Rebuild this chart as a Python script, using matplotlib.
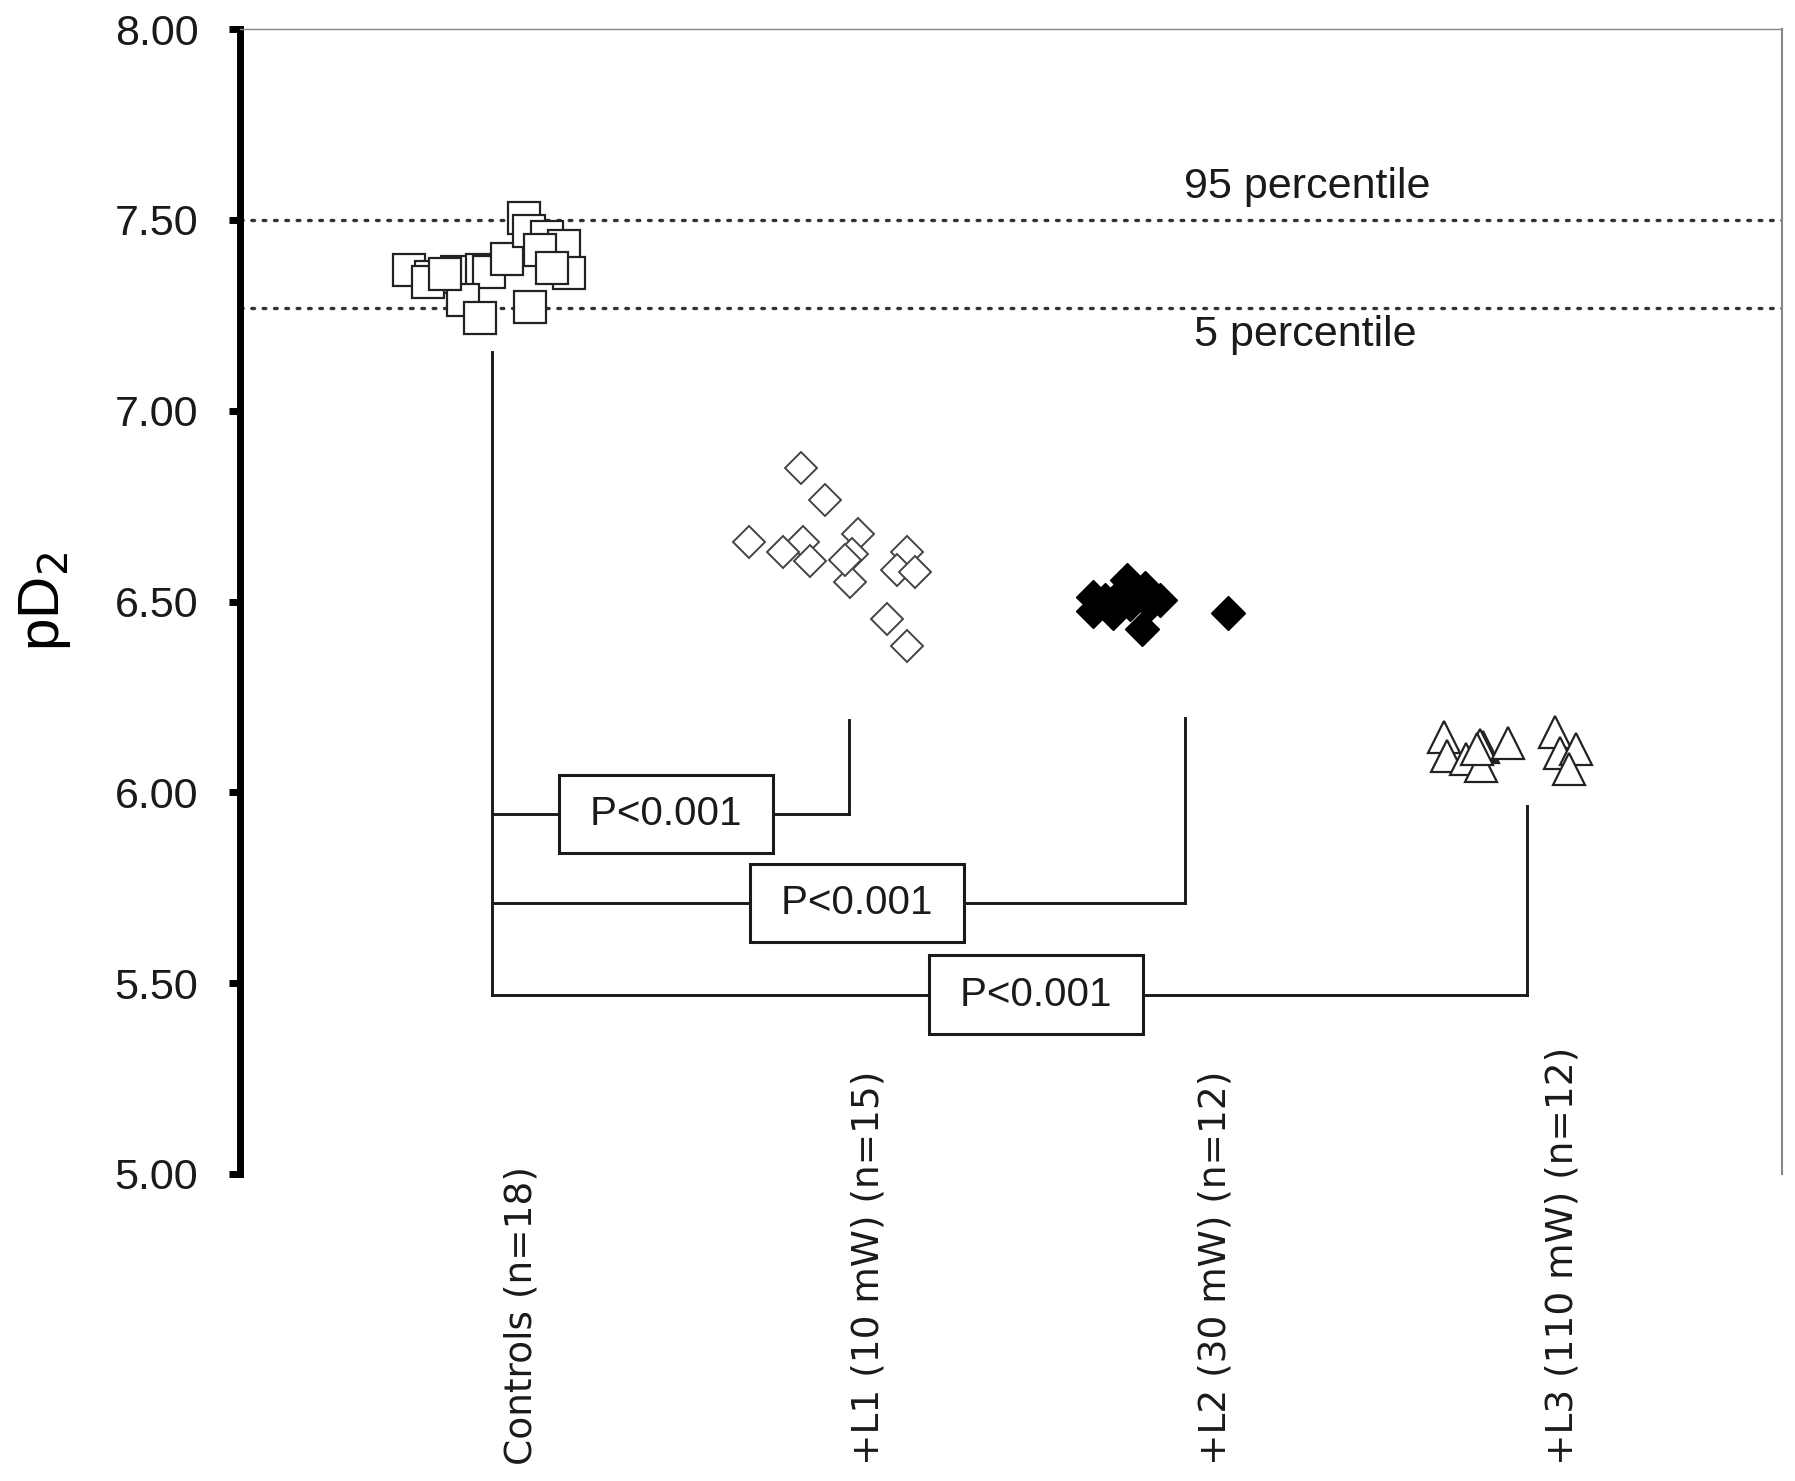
import matplotlib.pyplot as plt
from matplotlib import transforms

# groups on the x axis
groups = ['Controls (n=18)', '+L1 (10 mW) (n=15)', '+L2 (30 mW) (n=12)', '+L3 (110 mW) (n=12)']
group_pos = [1, 2, 3, 4]

# pD2 values, with the horizontal scatter of each point
ctrl_dx = [-0.323, -0.259, -0.268, -0.184, -0.112, -0.092, -0.040, 0.009, 0.023,
           0.075, 0.124, 0.055, 0.138, -0.167, -0.118, 0.026, 0.089, -0.219]
ctrl_y = [7.369, 7.350, 7.337, 7.363, 7.369, 7.363, 7.397, 7.505, 7.471,
          7.455, 7.431, 7.421, 7.361, 7.290, 7.243, 7.272, 7.374, 7.358]

l1_dx = [-0.193, -0.124, -0.343, -0.187, -0.245, -0.167, -0.029, -0.046, -0.052,
         0.112, 0.084, 0.135, 0.055, 0.112, -0.066]
l1_y = [6.851, 6.767, 6.657, 6.657, 6.631, 6.605, 6.676, 6.624, 6.550,
        6.629, 6.583, 6.577, 6.454, 6.383, 6.610]

l2_dx = [-0.352, -0.254, -0.202, -0.159, -0.352, -0.294, -0.245, -0.210, 0.037,
         -0.317, -0.274, -0.187]
l2_y = [6.512, 6.557, 6.536, 6.505, 6.474, 6.471, 6.493, 6.427, 6.471,
        6.505, 6.518, 6.493]

l3_dx = [-0.340, -0.331, -0.276, -0.227, -0.236, -0.233, -0.155, -0.019, -0.005,
         0.039, 0.021, -0.245]
l3_y = [6.145, 6.095, 6.087, 6.118, 6.124, 6.069, 6.129, 6.158, 6.103,
        6.113, 6.061, 6.113]

# reference range of controls
p95 = 7.50
p5 = 7.27

# comparison brackets (controls vs each group)
stem_x = 0.916
stem_top = 7.153
bracket_level = [5.943, 5.710, 5.470]
bracket_end_x = [1.946, 2.913, 3.899]
bracket_end_top = [6.189, 6.195, 5.964]
bracket_label_x = [1.418, 1.969, 2.484]
bracket_text = ['P<0.001', 'P<0.001', 'P<0.001']

yticks = [5.0, 5.5, 6.0, 6.5, 7.0, 7.5, 8.0]

fig = plt.figure(figsize=(17.95, 14.81), dpi=100)
ax = fig.add_axes([0.1337, 0.2073, 0.8591, 0.7731])

# points
ax.plot([group_pos[0] + d for d in ctrl_dx], ctrl_y, 's', ms=23, mfc='white',
        mec='#222222', mew=1.6, ls='none', zorder=3)
ax.plot([group_pos[1] + d for d in l1_dx], l1_y, 'D', ms=16, mfc='white',
        mec='#444444', mew=1.4, ls='none', zorder=3)
ax.plot([group_pos[2] + d for d in l2_dx], l2_y, 'D', ms=17, mfc='black',
        mec='black', mew=1.0, ls='none', zorder=3)
ax.plot([group_pos[3] + d for d in l3_dx], l3_y, '^', ms=23, mfc='white',
        mec='#222222', mew=1.6, ls='none', zorder=3)

# percentile lines
for v in [p95, p5]:
    ax.axhline(v, color='#333333', lw=2.4, ls=(0, (0.8, 2.6)),
               dash_capstyle='round', zorder=1)
ax.text(3.265, 7.587, '95 percentile', fontsize=31, family='Liberation Sans',
        ha='center', va='center', color='#1a1a1a')
ax.text(3.26, 7.198, '5 percentile', fontsize=31, family='Liberation Sans',
        ha='center', va='center', color='#1a1a1a')

# brackets
ax.plot([stem_x, stem_x], [stem_top, min(bracket_level)], color='#1a1a1a', lw=2.1)
for lev, ex, et, lx, t in zip(bracket_level, bracket_end_x, bracket_end_top,
                              bracket_label_x, bracket_text):
    ax.plot([stem_x, ex], [lev, lev], color='#1a1a1a', lw=2.1)
    ax.plot([ex, ex], [lev, et], color='#1a1a1a', lw=2.1)
    ax.text(lx, lev, ' ' + t + ' ', fontsize=29, family='Liberation Sans', ha='center',
            va='center', color='#1a1a1a', zorder=4,
            bbox=dict(boxstyle='square,pad=0.5', fc='white', ec='#1a1a1a', lw=2.2))

ax.set_xlim(0.190, 4.634)
ax.set_ylim(5, 8)

# axes styling
ax.spines['bottom'].set_visible(False)
ax.spines['left'].set_linewidth(5)
ax.spines['left'].set_color('black')
ax.spines['top'].set_linewidth(1)
ax.spines['top'].set_color('#888888')
ax.spines['right'].set_linewidth(1.5)
ax.spines['right'].set_color('#888888')

ax.set_xticks([])
ax.set_yticks(yticks)
ax.set_yticklabels([f'{v:.2f}' for v in yticks])
ax.tick_params(axis='y', direction='out', length=8, width=5, pad=22)
for lab in ax.get_yticklabels():
    lab.set_family(['Liberation Sans Narrow', 'Liberation Sans'])
    lab.set_fontsize(31)
    lab.set_color('#1a1a1a')

ax.set_ylabel('pD$_2$', fontsize=42, family='Liberation Sans', labelpad=30)

# group labels, rotated, bottom aligned
trans = transforms.blended_transform_factory(ax.transData, fig.transFigure)
for p, g in zip(group_pos, groups):
    ax.text(p, 0.0108, g, transform=trans, rotation=90, ha='center', va='bottom',
            fontsize=27, family='DejaVu Sans', color='#1a1a1a')

plt.savefig('out.png', dpi=100)
